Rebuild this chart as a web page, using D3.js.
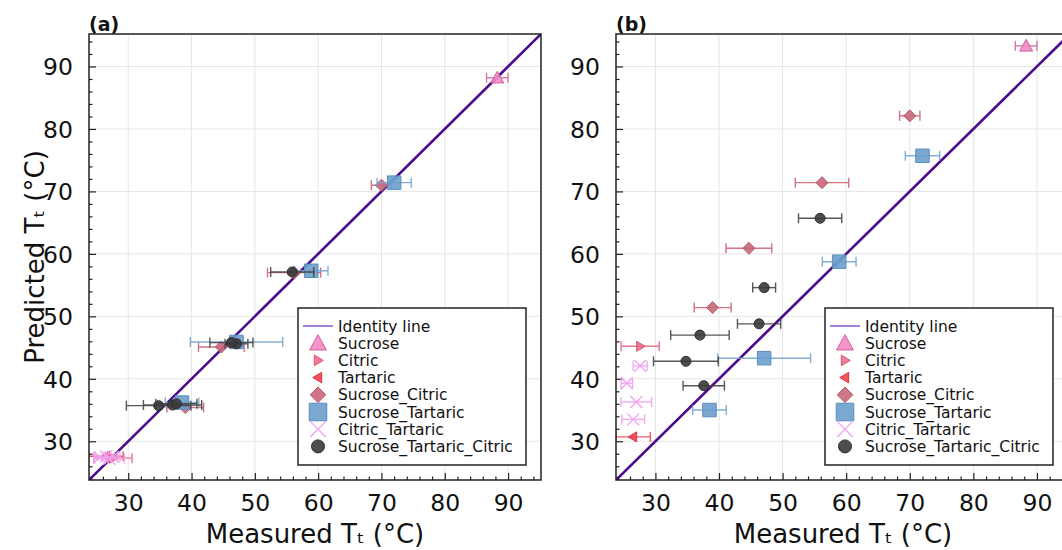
<!DOCTYPE html>
<html>
<head>
<meta charset="utf-8">
<script src="https://cdn.jsdelivr.net/npm/d3@7"></script>
<style>
  html, body { margin: 0; padding: 0; background: #fff; }
  svg { display: block; font-family: "DejaVu Sans", sans-serif; }
</style>
</head>
<body>
<svg id="chart" width="1062" height="550"></svg>
<script>
// Axis range shared by both panels (measured and predicted transition temperature, °C)
const axisRange = [23.8, 95.2];
const majorTicks = [30, 40, 50, 60, 70, 80, 90];

// Series, in legend order
const seriesNames = ["Sucrose", "Citric", "Tartaric", "Sucrose_Citric",
                     "Sucrose_Tartaric", "Citric_Tartaric", "Sucrose_Tartaric_Citric"];

// Measured Tt and its uncertainty (same in both panels)
const measSucrose = [88.3];
const errSucrose  = [1.7];
const measCitric  = [27.6];
const errCitric   = [3.0];
const measTartaric = [26.5];
const errTartaric  = [2.7];
const measSucCit = [70.0, 56.2, 44.7, 39.0];
const errSucCit  = [1.6, 4.2, 3.6, 2.9];
const measSucTar = [72.0, 58.9, 47.1, 38.5];
const errSucTar  = [2.7, 2.65, 7.3, 2.65];
const measCitTar = [27.6, 25.5, 27.0, 26.5];
const errCitTar  = [1.1, 0.9, 2.4, 1.8];
const measSTC = [55.9, 47.1, 46.3, 37.0, 34.8, 37.6];
const errSTC  = [3.4, 1.8, 3.4, 4.6, 5.1, 3.25];

// Predicted Tt, panel (a)
const predASucrose  = [88.2];
const predACitric   = [27.3];
const predATartaric = [27.6];
const predASucCit = [71.0, 57.0, 45.1, 35.4];
const predASucTar = [71.4, 57.3, 45.9, 36.2];
const predACitTar = [27.5, 27.4, 27.2, 27.6];
const predASTC = [57.1, 45.6, 45.8, 35.8, 35.7, 36.0];

// Predicted Tt, panel (b)
const predBSucrose  = [93.3];
const predBCitric   = [45.2];
const predBTartaric = [30.7];
const predBSucCit = [82.1, 71.4, 60.9, 51.4];
const predBSucTar = [75.7, 58.75, 43.3, 35.0];
const predBCitTar = [42.1, 39.3, 36.3, 33.5];
const predBSTC = [65.7, 54.6, 48.8, 47.0, 42.8, 38.9];

// Marker styles per series
const styles = {
  "Sucrose":                 { shape: "triangleUp",    size: 13, fill: "#f28ac4", stroke: "#d0609c", err: "#d66a9c" },
  "Citric":                  { shape: "triangleRight", size: 10, fill: "#ec6f8c", stroke: "#d85474", err: "#e06a86" },
  "Tartaric":                { shape: "triangleLeft",  size: 10, fill: "#f2424e", stroke: "#dc3440", err: "#ec4a56" },
  "Sucrose_Citric":          { shape: "diamond",       size: 12, fill: "#c8687c", stroke: "#b45a6c", err: "#cc6478" },
  "Sucrose_Tartaric":        { shape: "square",        size: 13.5, fill: "#6c9ecc", stroke: "#5a8ebe", err: "#78a6d2" },
  "Citric_Tartaric":         { shape: "cross",         size: 12, fill: "none",    stroke: "#f0a2f0", err: "#f0a2f0" },
  "Sucrose_Tartaric_Citric": { shape: "circle",        size: 10, fill: "#3a3a3a", stroke: "#2e2e2e", err: "#444444" }
};

function rows(meas, err, pred) {
  return meas.map((m, i) => ({ x: m, e: err[i], y: pred[i] }));
}

const panelData = [
  {
    label: "(a)", x0: 89, x1: 541,
    series: {
      "Sucrose": rows(measSucrose, errSucrose, predASucrose),
      "Citric": rows(measCitric, errCitric, predACitric),
      "Tartaric": rows(measTartaric, errTartaric, predATartaric),
      "Sucrose_Citric": rows(measSucCit, errSucCit, predASucCit),
      "Sucrose_Tartaric": rows(measSucTar, errSucTar, predASucTar),
      "Citric_Tartaric": rows(measCitTar, errCitTar, predACitTar),
      "Sucrose_Tartaric_Citric": rows(measSTC, errSTC, predASTC)
    }
  },
  {
    label: "(b)", x0: 616, x1: 1070,
    series: {
      "Sucrose": rows(measSucrose, errSucrose, predBSucrose),
      "Citric": rows(measCitric, errCitric, predBCitric),
      "Tartaric": rows(measTartaric, errTartaric, predBTartaric),
      "Sucrose_Citric": rows(measSucCit, errSucCit, predBSucCit),
      "Sucrose_Tartaric": rows(measSucTar, errSucTar, predBSucTar),
      "Citric_Tartaric": rows(measCitTar, errCitTar, predBCitTar),
      "Sucrose_Tartaric_Citric": rows(measSTC, errSTC, predBSTC)
    }
  }
];

const plotTop = 34, plotBottom = 480;
const svg = d3.select("#chart");

// Path generator for each marker shape, centred on 0,0
function markerPath(shape, s) {
  const h = s / 2;
  switch (shape) {
    case "triangleUp":    return `M0,${-h}L${h},${h * 0.8}L${-h},${h * 0.8}Z`;
    case "triangleRight": return `M${h},0L${-h * 0.7},${h}L${-h * 0.7},${-h}Z`;
    case "triangleLeft":  return `M${-h},0L${h * 0.7},${-h}L${h * 0.7},${h}Z`;
    case "diamond":       return `M0,${-h}L${h},0L0,${h}L${-h},0Z`;
    case "square":        return `M${-h},${-h}H${h}V${h}H${-h}Z`;
    case "cross":         return `M${-h},${-h}L${h},${h}M${-h},${h}L${h},${-h}`;
    case "circle":        return d3.symbol(d3.symbolCircle, Math.PI * h * h)();
  }
}

function drawMarker(g, st, cx, cy, scale) {
  const s = st.size * (scale || 1);
  g.append("path")
    .attr("transform", `translate(${cx},${cy})`)
    .attr("d", markerPath(st.shape, s))
    .attr("fill", st.fill)
    .attr("fill-opacity", st.fill === "none" ? null : 0.9)
    .attr("stroke", st.stroke)
    .attr("stroke-width", st.shape === "cross" ? 1.3 : 1);
}

panelData.forEach((p, pi) => {
  const x = d3.scaleLinear().domain(axisRange).range([p.x0, p.x1]);
  const y = d3.scaleLinear().domain(axisRange).range([plotBottom, plotTop]);
  const g = svg.append("g");

  const clipId = "clip" + pi;
  svg.append("clipPath").attr("id", clipId)
    .append("rect").attr("x", p.x0).attr("y", plotTop)
    .attr("width", p.x1 - p.x0).attr("height", plotBottom - plotTop);

  // Grid lines
  const grid = g.append("g").attr("stroke", "#e6e6e6").attr("stroke-width", 1);
  majorTicks.forEach(t => {
    grid.append("line").attr("x1", x(t)).attr("x2", x(t)).attr("y1", plotTop).attr("y2", plotBottom);
    grid.append("line").attr("y1", y(t)).attr("y2", y(t)).attr("x1", p.x0).attr("x2", p.x1);
  });

  // Axes with inward major and minor ticks
  const minor = d3.range(24, 96, 2).filter(v => v % 10 !== 0);
  const xAxis = d3.axisBottom(x).tickValues(majorTicks).tickSize(-7).tickPadding(14).tickFormat(d3.format("d"));
  const yAxis = d3.axisLeft(y).tickValues(majorTicks).tickSize(-7).tickPadding(16).tickFormat(d3.format("d"));
  const gx = g.append("g").attr("transform", `translate(0,${plotBottom})`).call(xAxis);
  const gy = g.append("g").attr("transform", `translate(${p.x0},0)`).call(yAxis);
  const gxm = g.append("g").attr("transform", `translate(0,${plotBottom})`)
    .call(d3.axisBottom(x).tickValues(minor).tickSize(-3.5).tickFormat(""));
  const gym = g.append("g").attr("transform", `translate(${p.x0},0)`)
    .call(d3.axisLeft(y).tickValues(minor).tickSize(-3.5).tickFormat(""));
  [gx, gy, gxm, gym].forEach(a => {
    a.select(".domain").remove();
    a.selectAll(".tick line").attr("stroke", "#222").attr("stroke-width", 1.2);
    a.selectAll(".tick text").attr("font-size", 23.5).attr("fill", "#111")
      .attr("font-family", "DejaVu Sans");
  });
  gy.selectAll(".tick text").attr("dy", "0.36em");

  // Identity line
  const body = g.append("g").attr("clip-path", `url(#${clipId})`);
  body.append("line")
    .attr("x1", x(axisRange[0])).attr("y1", y(axisRange[0]))
    .attr("x2", x(axisRange[1])).attr("y2", y(axisRange[1]))
    .attr("stroke", "#4b0b8c").attr("stroke-width", 2.6);

  // Error bars then markers, series by series
  seriesNames.forEach(name => {
    const st = styles[name];
    const pts = p.series[name];
    const eb = body.append("g").attr("stroke", st.err).attr("stroke-width", 1.4).attr("opacity", 0.9);
    pts.forEach(d => {
      const cy = y(d.y), xl = x(d.x - d.e), xr = x(d.x + d.e);
      eb.append("line").attr("x1", xl).attr("x2", xr).attr("y1", cy).attr("y2", cy);
      eb.append("line").attr("x1", xl).attr("x2", xl).attr("y1", cy - 5).attr("y2", cy + 5);
      eb.append("line").attr("x1", xr).attr("x2", xr).attr("y1", cy - 5).attr("y2", cy + 5);
    });
    pts.forEach(d => drawMarker(body, st, x(d.x), y(d.y)));
  });

  // Frame
  g.append("rect").attr("x", p.x0).attr("y", plotTop)
    .attr("width", p.x1 - p.x0).attr("height", plotBottom - plotTop)
    .attr("fill", "none").attr("stroke", "#222").attr("stroke-width", 1.5);

  // Panel label
  g.append("text").attr("x", p.x0).attr("y", 31)
    .attr("font-size", 19).attr("font-weight", "bold").attr("fill", "#111")
    .text(p.label);

  // X axis title
  g.append("text").attr("x", (p.x0 + p.x1) / 2).attr("y", 543)
    .attr("text-anchor", "middle").attr("font-size", 26).attr("fill", "#111")
    .text("Measured Tₜ (°C)");

  // Legend
  const lx = p.x0 + 209, ly = 308, lw = 228, lh = 157;
  const lg = g.append("g");
  lg.append("rect").attr("x", lx).attr("y", ly).attr("width", lw).attr("height", lh)
    .attr("fill", "#fff").attr("stroke", "#222").attr("stroke-width", 1.5);
  const rowY = i => ly + 18 + i * 17.2;
  lg.append("line").attr("x1", lx + 5).attr("x2", lx + 35)
    .attr("y1", rowY(0)).attr("y2", rowY(0))
    .attr("stroke", "#7a3cc0").attr("stroke-width", 1.3);
  lg.append("text").attr("x", lx + 40).attr("y", rowY(0)).attr("dy", "0.36em")
    .attr("font-size", 15.5).attr("fill", "#111").text("Identity line");
  seriesNames.forEach((name, i) => {
    const st = styles[name];
    drawMarker(lg, st, lx + 20, rowY(i + 1), name === "Citric" || name === "Tartaric" ? 1.05 : 1.3);
    lg.append("text").attr("x", lx + 40).attr("y", rowY(i + 1)).attr("dy", "0.36em")
      .attr("font-size", 15.5).attr("fill", "#111").text(name);
  });
});

// Y axis title (left panel only)
svg.append("text")
  .attr("transform", `translate(44,${(plotTop + plotBottom) / 2}) rotate(-90)`)
  .attr("text-anchor", "middle").attr("font-size", 26).attr("fill", "#111")
  .text("Predicted Tₜ (°C)");
</script>
</body>
</html>
